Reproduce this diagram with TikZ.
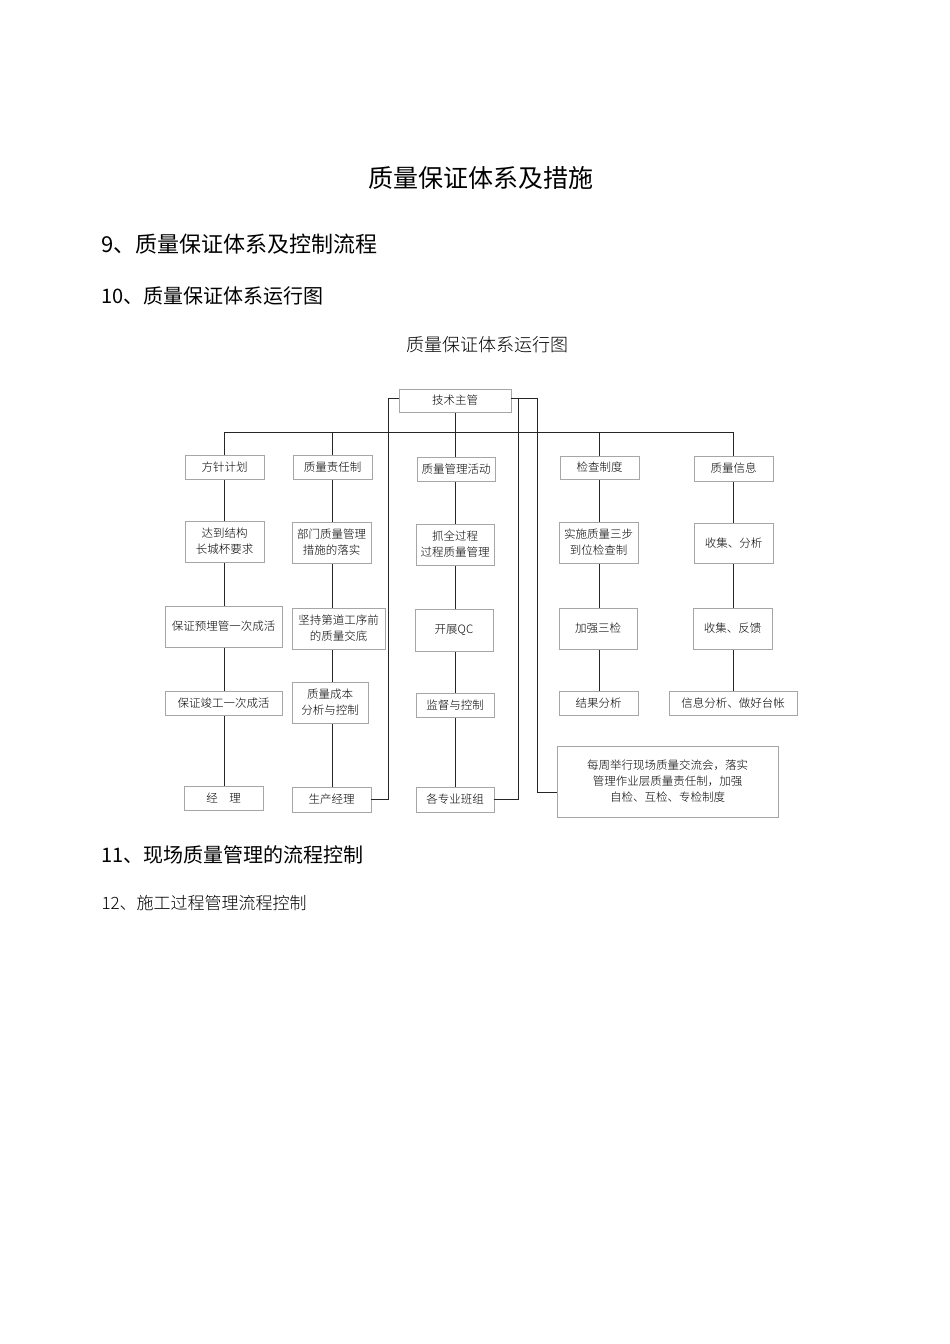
\documentclass[tikz,border=0pt]{standalone}
\usepackage{fontspec}
\setmainfont{Noto Sans CJK SC}
\newfontfamily\cjklight{Noto Sans CJK SC Light}
\begin{document}
\begin{tikzpicture}[x=1pt,y=-1pt,
  bx/.style={draw=black!35,line width=0.8pt,fill=white,inner sep=0pt,font=\fontsize{11.5}{16}\selectfont\cjklight,align=center},
  ln/.style={draw=black!85,line width=1pt}]
\useasboundingbox (0,0) rectangle (950,1344);
\node[font=\fontsize{25}{28}\selectfont] (t0) at (481,178) {质量保证体系及措施};
\node[anchor=west,font=\fontsize{22}{26}\selectfont] (t1) at (98,244) {9、质量保证体系及控制流程};
\node[anchor=west,font=\fontsize{20}{24}\selectfont] (t2) at (98,296) {10、质量保证体系运行图};
\node[font=\fontsize{18}{22}\selectfont\cjklight] (t3) at (487,345) {质量保证体系运行图};
\node[anchor=west,font=\fontsize{20}{24}\selectfont] (t4) at (98,855) {11、现场质量管理的流程控制};
\node[anchor=west,font=\fontsize{17}{22}\selectfont\cjklight] (t5) at (98,903) {12、施工过程管理流程控制};
% helper macro for boxes by corners
\def\bb#1#2#3#4#5#6{\node[bx,minimum width=#4-#2,minimum height=#5-#3] (#1) at ({(#2+#4)/2},{(#3+#5)/2}) {#6};}
% lines first
\draw[ln] (224,432) -- (733,432);
\draw[ln] (455,412) -- (455,432);
\foreach \x/\a/\b in {224/432/798,332/432/799,455/432/799,599/432/703,733/432/703}
  \draw[ln] (\x,\a) -- (\x,\b);
\bb{top}{399}{389}{511}{412}{技术主管}
\bb{a1}{185}{455}{264}{479}{方针计划}
\bb{a2}{185}{521}{264}{562}{达到结构\\长城杯要求}
\bb{a3}{165}{606}{282}{647}{保证预埋管一次成活}
\bb{a4}{165}{691}{282}{715}{保证竣工一次成活}
\bb{a5}{184}{786}{263}{810}{经\quad 理}
\bb{b1}{293}{455}{372}{479}{质量责任制}
\bb{b2}{292}{522}{371}{563}{部门质量管理\\措施的落实}
\bb{b3}{292}{608}{385}{649}{坚持第道工序前\\的质量交底}
\bb{b4}{292}{682}{368}{723}{质量成本\\分析与控制}
\bb{b5}{292}{787}{371}{812}{生产经理}
\bb{c1}{417}{457}{495}{481}{质量管理活动}
\bb{c2}{416}{524}{494}{565}{抓全过程\\过程质量管理}
\bb{c3}{415}{609}{493}{651}{开展QC}
\bb{c4}{416}{693}{494}{717}{监督与控制}
\bb{c5}{416}{787}{494}{812}{各专业班组}
\bb{d1}{560}{456}{639}{479}{检查制度}
\bb{d2}{559}{522}{638}{563}{实施质量三步\\到位检查制}
\bb{d3}{559}{608}{637}{649}{加强三检}
\bb{d4}{559}{691}{638}{715}{结果分析}
\bb{e1}{694}{456}{773}{481}{质量信息}
\bb{e2}{694}{523}{773}{563}{收集、分析}
\bb{e3}{693}{608}{772}{649}{收集、反馈}
\bb{e4}{669}{691}{797}{715}{信息分析、做好台帐}
\bb{f1}{557}{746}{778}{817}{每周举行现场质量交流会，落实\\管理作业层质量责任制，加强\\自检、互检、专检制度}
% loops
\draw[ln] (b5.east) -- (388,799.5) -- (388,398) -- (top.west |- 0,398);
\draw[ln] (top.east |- 0,398) -- (518,398) -- (518,799.5) -- (c5.east);
\draw[ln] (top.east |- 0,398) -- (537,398) -- (537,792) -- (f1.west |- 0,792);
\end{tikzpicture}
\end{document}
